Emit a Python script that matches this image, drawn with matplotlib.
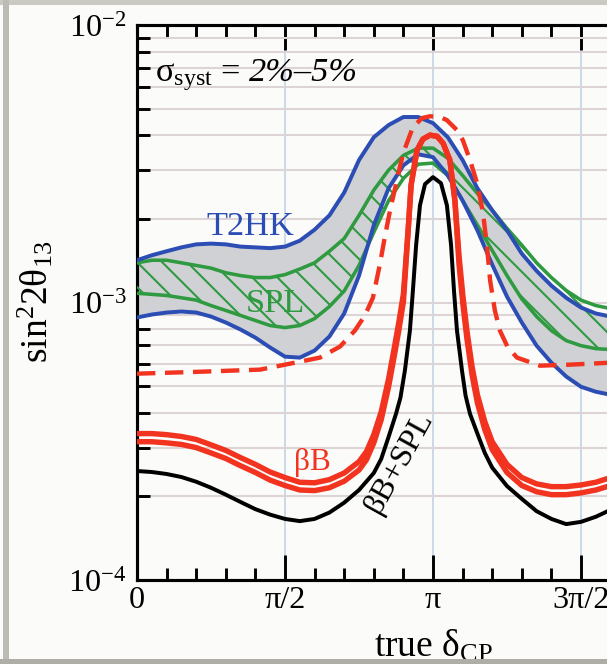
import numpy as np
import matplotlib
matplotlib.use("Agg")
import matplotlib.pyplot as plt
from matplotlib.patches import Rectangle
from matplotlib.ticker import MultipleLocator, LogLocator, NullFormatter

plt.rcParams["font.family"] = ["Liberation Serif", "DejaVu Serif"]
plt.rcParams["mathtext.fontset"] = "custom"
plt.rcParams["mathtext.rm"] = "Liberation Serif"
plt.rcParams["mathtext.it"] = "Liberation Serif:italic"
plt.rcParams["mathtext.bf"] = "Liberation Serif:bold"
plt.rcParams["hatch.linewidth"] = 1.0

# ---- data (true delta_CP in units of pi, sin^2 2theta_13 reach) ----
x_band = [0.00, 0.05, 0.10, 0.15, 0.20, 0.25, 0.30, 0.35, 0.40, 0.45, 0.50,
          0.55, 0.60, 0.65, 0.70, 0.75, 0.80, 0.85, 0.90, 0.95, 1.00, 1.05,
          1.10, 1.15, 1.20, 1.25, 1.30, 1.35, 1.40, 1.45, 1.50, 1.55, 1.60]

t2hk_hi = [1.42e-3, 1.48e-3, 1.53e-3, 1.58e-3, 1.62e-3, 1.63e-3, 1.62e-3, 1.59e-3,
           1.58e-3, 1.57e-3, 1.59e-3, 1.67e-3, 1.83e-3, 2.06e-3, 2.49e-3, 3.26e-3,
           3.94e-3, 4.36e-3, 4.66e-3, 4.66e-3, 4.43e-3, 3.94e-3, 3.26e-3, 2.58e-3,
           2.15e-3, 1.82e-3, 1.50e-3, 1.30e-3, 1.15e-3, 1.04e-3, 9.59e-4, 9.13e-4, 8.90e-4]
t2hk_lo = [8.83e-4, 9.05e-4, 9.20e-4, 9.28e-4, 9.20e-4, 8.90e-4, 8.47e-4, 7.99e-4,
           7.47e-4, 6.88e-4, 6.38e-4, 6.33e-4, 6.71e-4, 7.54e-4, 9.13e-4, 1.25e-3,
           1.90e-3, 2.58e-3, 3.12e-3, 3.42e-3, 3.34e-3, 2.87e-3, 2.33e-3, 1.82e-3,
           1.37e-3, 1.05e-3, 8.47e-4, 6.99e-4, 6.07e-4, 5.41e-4, 4.97e-4, 4.77e-4, 4.65e-4]

spl_hi = [1.39e-3, 1.42e-3, 1.42e-3, 1.39e-3, 1.36e-3, 1.33e-3, 1.28e-3, 1.25e-3,
          1.23e-3, 1.23e-3, 1.26e-3, 1.32e-3, 1.39e-3, 1.53e-3, 1.70e-3, 2.06e-3,
          2.54e-3, 3.00e-3, 3.39e-3, 3.60e-3, 3.60e-3, 3.31e-3, 2.87e-3, 2.47e-3,
          2.15e-3, 1.85e-3, 1.61e-3, 1.39e-3, 1.23e-3, 1.105e-3, 1.02e-3, 9.75e-4, 9.51e-4]
spl_lo = [1.08e-3, 1.07e-3, 1.06e-3, 1.04e-3, 1.02e-3, 9.75e-4, 9.36e-4, 8.98e-4,
          8.61e-4, 8.26e-4, 8.12e-4, 8.26e-4, 8.75e-4, 9.67e-4, 1.10e-3, 1.36e-3,
          1.79e-3, 2.33e-3, 2.80e-3, 3.15e-3, 3.18e-3, 2.87e-3, 2.33e-3, 1.90e-3,
          1.54e-3, 1.25e-3, 1.03e-3, 8.90e-4, 7.92e-4, 7.29e-4, 6.99e-4, 6.82e-4, 6.77e-4]

dash_x = [0.0, 0.213, 0.416, 0.517, 0.618, 0.686, 0.736, 0.770, 0.797, 0.821, 0.838,
          0.855, 0.878, 0.899, 0.932, 0.963, 0.990, 1.024, 1.047, 1.081, 1.101, 1.125,
          1.149, 1.169, 1.182, 1.193, 1.209, 1.226, 1.253, 1.284, 1.361, 1.463, 1.60]
dash_y = [5.54e-4, 5.63e-4, 5.73e-4, 6.02e-4, 6.33e-4, 6.94e-4, 7.92e-4, 8.98e-4,
          1.04e-3, 1.38e-3, 1.74e-3, 2.15e-3, 2.76e-3, 3.45e-3, 4.28e-3, 4.62e-3,
          4.69e-3, 4.66e-3, 4.54e-3, 4.18e-3, 3.84e-3, 3.26e-3, 2.69e-3, 2.10e-3,
          1.61e-3, 1.20e-3, 9.36e-4, 7.92e-4, 6.88e-4, 6.33e-4, 5.92e-4, 5.97e-4, 6.07e-4]

bb_x = [0.00, 0.05, 0.10, 0.15, 0.20, 0.25, 0.30, 0.35, 0.40, 0.45, 0.50, 0.55,
        0.60, 0.65, 0.70, 0.75, 0.775, 0.80, 0.825, 0.85, 0.87, 0.885, 0.90,
        0.916, 0.926, 0.946, 0.966, 0.99, 1.014, 1.034, 1.057, 1.074, 1.088,
        1.101, 1.115, 1.132, 1.15, 1.175, 1.20, 1.25, 1.30, 1.35, 1.40, 1.45,
        1.50, 1.55, 1.60]
bb_hi = [3.37e-4, 3.37e-4, 3.34e-4, 3.29e-4, 3.21e-4, 3.07e-4, 2.93e-4, 2.76e-4,
         2.61e-4, 2.45e-4, 2.34e-4, 2.25e-4, 2.24e-4, 2.30e-4, 2.43e-4, 2.67e-4,
         2.90e-4, 3.34e-4, 4.04e-4, 5.31e-4, 6.94e-4, 8.54e-4, 1.075e-3,
         1.82e-3, 2.65e-3, 3.54e-3, 3.88e-3, 4.01e-3, 3.97e-3, 3.75e-3, 3.26e-3, 2.33e-3,
         1.47e-3, 1.055e-3, 7.86e-4, 5.87e-4, 4.65e-4, 3.72e-4, 3.15e-4,
         2.61e-4, 2.34e-4, 2.22e-4, 2.17e-4, 2.17e-4, 2.20e-4, 2.25e-4, 2.34e-4]
bb_lo = [3.15e-4, 3.15e-4, 3.12e-4, 3.08e-4, 3.00e-4, 2.87e-4, 2.74e-4, 2.58e-4,
         2.44e-4, 2.29e-4, 2.19e-4, 2.11e-4, 2.10e-4, 2.15e-4, 2.27e-4, 2.49e-4,
         2.71e-4, 3.12e-4, 3.78e-4, 4.97e-4, 6.49e-4, 7.99e-4, 1.006e-3,
         1.82e-3, 2.65e-3, 3.54e-3, 3.88e-3, 4.01e-3, 3.97e-3, 3.75e-3, 3.26e-3, 2.33e-3,
         1.37e-3, 9.86e-4, 7.35e-4, 5.49e-4, 4.35e-4, 3.48e-4, 2.95e-4,
         2.44e-4, 2.19e-4, 2.08e-4, 2.03e-4, 2.03e-4, 2.06e-4, 2.11e-4, 2.19e-4]

bbspl_x = [0.00, 0.05, 0.10, 0.15, 0.20, 0.25, 0.30, 0.35, 0.40, 0.45, 0.50, 0.55,
           0.60, 0.65, 0.70, 0.75, 0.80, 0.825, 0.85, 0.875, 0.89, 0.905, 0.922,
           0.932, 0.943, 0.956, 0.973, 1.0, 1.027, 1.047, 1.061, 1.071, 1.081,
           1.098, 1.11, 1.125, 1.15, 1.175, 1.20, 1.25, 1.30, 1.35, 1.40, 1.45,
           1.50, 1.55, 1.60]
bbspl_y = [2.47e-4, 2.45e-4, 2.41e-4, 2.35e-4, 2.26e-4, 2.15e-4, 2.03e-4, 1.91e-4,
           1.80e-4, 1.72e-4, 1.66e-4, 1.63e-4, 1.66e-4, 1.75e-4, 1.90e-4, 2.11e-4,
           2.43e-4, 2.73e-4, 3.28e-4, 3.97e-4, 4.54e-4, 5.68e-4, 7.92e-4, 1.10e-3,
           1.61e-3, 2.24e-3, 2.67e-3, 2.83e-3, 2.69e-3, 2.24e-3, 1.61e-3, 1.10e-3,
           7.92e-4, 5.68e-4, 4.62e-4, 3.97e-4, 3.37e-4, 2.87e-4, 2.54e-4, 2.18e-4,
           1.96e-4, 1.77e-4, 1.66e-4, 1.59e-4, 1.62e-4, 1.69e-4, 1.79e-4]

x_ticks = [0, 0.5, 1.0, 1.5, 2.0]
x_tick_labels = ["0", "π/2", "π", "3π/2", "2π"]
y_ticks = [1e-4, 1e-3, 1e-2]
y_tick_labels = [r"$10^{-4}$", r"$10^{-3}$", r"$10^{-2}$"]

blue = "#2c4db3"
green = "#2f9a3f"
red = "#f2331f"

fig = plt.figure(figsize=(607 / 150, 664 / 150), dpi=150, facecolor="#fbfbfa")
# axes run out past the right edge, like the cropped original
ax = fig.add_axes([137 / 607, 84 / 664, 592 / 607, 555 / 664])
ax.set_facecolor("#fbfbfa")

pi = np.pi
xb = np.array(x_band) * pi

# T2HK band (grey) and SPL band (green hatch)
ax.fill_between(xb, t2hk_lo, t2hk_hi, color="#cfd1d5", lw=0, zorder=2)
ax.fill_between(xb, spl_lo, spl_hi, facecolor="none", edgecolor=green,
                hatch="\\\\", lw=0, zorder=3)
ax.plot(xb, spl_hi, color=green, lw=1.7, zorder=4)
ax.plot(xb, spl_lo, color=green, lw=1.7, zorder=4)
ax.plot(xb, t2hk_hi, color=blue, lw=1.9, zorder=4.5)
ax.plot(xb, t2hk_lo, color=blue, lw=1.9, zorder=4.5)

# beta beam alone (dashed, solid pair) and combined with SPL (black)
ax.plot(np.array(dash_x) * pi, dash_y, color=red, lw=2.1, dashes=(4.2, 2.2), zorder=5)
ax.plot(np.array(bb_x) * pi, bb_hi, color=red, lw=2.6, zorder=6)
ax.plot(np.array(bb_x) * pi, bb_lo, color=red, lw=2.6, zorder=6)
ax.plot(np.array(bbspl_x) * pi, bbspl_y, color="black", lw=1.9, zorder=7)

ax.set_yscale("log")
ax.set_xlim(0, 2 * pi)
ax.set_ylim(1e-4, 1e-2)

ax.set_xticks(np.array(x_ticks) * pi, x_tick_labels)
ax.xaxis.set_minor_locator(MultipleLocator(pi / 10))
ax.set_yticks(y_ticks, y_tick_labels)
ax.yaxis.set_minor_locator(LogLocator(base=10, subs=range(2, 10)))
ax.yaxis.set_minor_formatter(NullFormatter())

ax.tick_params(which="both", direction="in", top=True, right=True, width=1.4,
               labelsize=15.5)
ax.tick_params(which="major", length=12)
ax.tick_params(which="minor", length=6)
ax.tick_params(axis="x", pad=3)
ax.tick_params(axis="y", pad=5)

# soft grid, blue verticals and beige horizontals
ax.grid(which="both", axis="y", color="#ddd5d5", lw=1.0, zorder=1)
ax.grid(which="major", axis="x", color="#c8d8e8", lw=0.9, zorder=1)

for s in ax.spines.values():
    s.set_linewidth(1.5)

# labels inside the plot
ax.text(0.030, 0.899, r"$\mathrm{σ}_{\mathrm{syst}}$ = ", transform=ax.transAxes,
        fontsize=16.5, va="baseline", zorder=8)
ax.text(0.190, 0.899, "2%–5%", style="italic", transform=ax.transAxes,
        fontsize=16.5, va="baseline", zorder=8)
ax.text(0.118, 0.622, "T2HK", color=blue, fontsize=16.5, va="baseline",
        transform=ax.transAxes, zorder=8)
ax.text(0.184, 0.483, "SPL", color=green, fontsize=16.5, va="baseline",
        transform=ax.transAxes, zorder=8)
ax.text(0.265, 0.198, "βB", color=red, fontsize=15, va="baseline",
        transform=ax.transAxes, zorder=8)
ax.text(0.443, 0.213, "βB+SPL", color="black", fontsize=15.5, rotation=61,
        ha="center", va="center", rotation_mode="anchor",
        transform=ax.transAxes, zorder=8)

fig.text(36 / 607, 1 - 302 / 664, r"$\mathrm{sin}^{2}\mathrm{2θ}_{13}$",
         rotation=90, ha="center", va="center", fontsize=18)
fig.text(433 / 607, 1 - 657 / 664, r"true $\mathrm{δ}_{\mathrm{CP}}$",
         ha="center", va="baseline", fontsize=18)

# scan border
fig.add_artist(Rectangle((0, 1 - 5 / 664), 1, 5 / 664, transform=fig.transFigure,
                         facecolor="#cacac2", edgecolor="none", zorder=20))
fig.add_artist(Rectangle((3 / 607, 0), 6 / 607, 1, transform=fig.transFigure,
                         facecolor="#bcbcb4", edgecolor="none", zorder=20))
fig.add_artist(Rectangle((0, 0), 1, 5 / 664, transform=fig.transFigure,
                         facecolor="#aeaea6", edgecolor="none", zorder=20))

fig.savefig("out.png", dpi=150, facecolor=fig.get_facecolor())
plt.close(fig)
